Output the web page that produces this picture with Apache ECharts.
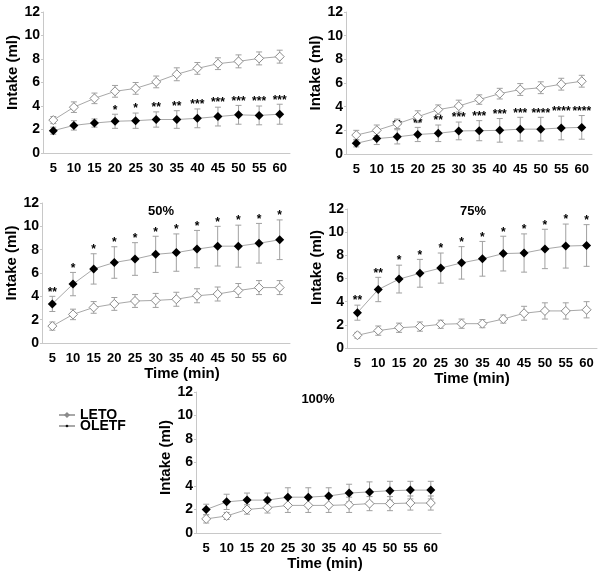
<!DOCTYPE html>
<html>
<head>
<meta charset="utf-8">
<script src="https://cdn.jsdelivr.net/npm/echarts@6/dist/echarts.min.js"></script>
<style>
html,body{margin:0;padding:0;background:#fff;}
#c{width:601px;height:576px;}
</style>
</head>
<body>
<div id="c"></div>
<script>
const categories = ['5','10','15','20','25','30','35','40','45','50','55','60'];
const yMin = 0, yMax = 12, yStep = 2;
const panelTitles = ['', '', '50%', '75%', '100%'];
const seriesNames = ['LETO', 'OLETF'];
const yAxisName = 'Intake (ml)';
const xAxisName = 'Time (min)';

// Panel 1 (top-left)
const p1Leto     = [2.8, 3.9, 4.65, 5.25, 5.5, 6.05, 6.7, 7.2, 7.6, 7.8, 8.05, 8.2];
const p1LetoErr  = [0.3, 0.45, 0.45, 0.5, 0.5, 0.5, 0.55, 0.5, 0.5, 0.55, 0.55, 0.55];
const p1Oletf    = [1.9, 2.35, 2.55, 2.7, 2.75, 2.85, 2.85, 2.95, 3.1, 3.25, 3.2, 3.3];
const p1OletfErr = [0.3, 0.4, 0.35, 0.6, 0.65, 0.65, 0.75, 0.8, 0.8, 0.8, 0.8, 0.85];
const p1Stars    = ['', '', '', '*', '*', '**', '**', '***', '***', '***', '***', '***'];

// Panel 2 (top-right)
const p2Leto     = [1.6, 2.0, 2.55, 3.15, 3.75, 4.05, 4.6, 5.1, 5.45, 5.6, 5.9, 6.15];
const p2LetoErr  = [0.4, 0.45, 0.4, 0.5, 0.4, 0.5, 0.4, 0.45, 0.5, 0.5, 0.5, 0.5];
const p2Oletf    = [0.9, 1.3, 1.45, 1.65, 1.75, 1.95, 1.97, 2.0, 2.1, 2.1, 2.2, 2.25];
const p2OletfErr = [0.3, 0.5, 0.6, 0.6, 0.7, 0.75, 0.85, 1.0, 1.0, 1.0, 1.0, 1.0];
const p2Stars    = ['', '', '**', '**', '**', '***', '***', '***', '***', '****', '****', '****'];

// Panel 3 (50%)
const p3Leto     = [1.45, 2.45, 3.05, 3.35, 3.6, 3.65, 3.75, 4.05, 4.2, 4.5, 4.75, 4.75];
const p3LetoErr  = [0.35, 0.45, 0.5, 0.55, 0.55, 0.6, 0.6, 0.6, 0.6, 0.6, 0.6, 0.6];
const p3Oletf    = [3.35, 5.05, 6.35, 6.9, 7.2, 7.6, 7.75, 8.05, 8.3, 8.3, 8.55, 8.85];
const p3OletfErr = [0.65, 1.0, 1.3, 1.35, 1.4, 1.55, 1.6, 1.6, 1.7, 1.8, 1.7, 1.7];
const p3Stars    = ['**', '*', '*', '*', '*', '*', '*', '*', '*', '*', '*', '*'];

// Panel 4 (75%)
const p4Leto     = [1.1, 1.5, 1.75, 1.85, 2.05, 2.1, 2.1, 2.5, 3.0, 3.2, 3.2, 3.3];
const p4LetoErr  = [0.25, 0.4, 0.4, 0.4, 0.35, 0.4, 0.35, 0.35, 0.6, 0.7, 0.7, 0.7];
const p4Oletf    = [3.05, 5.05, 5.95, 6.45, 6.9, 7.35, 7.7, 8.15, 8.2, 8.55, 8.8, 8.85];
const p4OletfErr = [0.65, 1.05, 1.2, 1.2, 1.3, 1.4, 1.5, 1.5, 1.65, 1.7, 1.9, 1.8];
const p4Stars    = ['**', '**', '*', '*', '*', '*', '*', '*', '*', '*', '*', '*'];

// Panel 5 (100%)
const p5Leto     = [1.2, 1.45, 2.0, 2.15, 2.35, 2.35, 2.35, 2.4, 2.5, 2.5, 2.55, 2.55];
const p5LetoErr  = [0.35, 0.3, 0.4, 0.45, 0.6, 0.6, 0.6, 0.65, 0.6, 0.6, 0.6, 0.6];
const p5Oletf    = [2.0, 2.65, 2.8, 2.8, 3.05, 3.05, 3.15, 3.4, 3.5, 3.6, 3.65, 3.65];
const p5OletfErr = [0.45, 0.65, 0.6, 0.6, 0.8, 0.8, 0.7, 0.75, 0.85, 0.8, 0.75, 0.75];
const p5Stars    = ['', '', '', '', '', '', '', '', '', '', '', ''];

const panels = [
  {leto: p1Leto, letoErr: p1LetoErr, oletf: p1Oletf, oletfErr: p1OletfErr, stars: p1Stars},
  {leto: p2Leto, letoErr: p2LetoErr, oletf: p2Oletf, oletfErr: p2OletfErr, stars: p2Stars},
  {leto: p3Leto, letoErr: p3LetoErr, oletf: p3Oletf, oletfErr: p3OletfErr, stars: p3Stars},
  {leto: p4Leto, letoErr: p4LetoErr, oletf: p4Oletf, oletfErr: p4OletfErr, stars: p4Stars},
  {leto: p5Leto, letoErr: p5LetoErr, oletf: p5Oletf, oletfErr: p5OletfErr, stars: p5Stars}
];

// layout (pixels)
const layout = [
  {left: 43,  top: 12,  width: 247, height: 141, xName: false, namePadX: 0,  namePadY: 20},
  {left: 346, top: 12,  width: 246, height: 142, xName: false, namePadX: 0,  namePadY: 20},
  {left: 42,  top: 203, width: 248, height: 140, xName: true,  namePadX: 32, namePadY: 20},
  {left: 347, top: 209, width: 250, height: 139, xName: true,  namePadX: 0,  namePadY: 22},
  {left: 196, top: 392, width: 245, height: 141, xName: true,  namePadX: 13, namePadY: 10}
];
const titlePos = [null, null, {x: 156, y: 200}, {x: 468, y: 200}, {x: 313, y: 388}];

const FONT = 'Liberation Sans, Arial, sans-serif';
const grayLine = '#a8a8a8';
const errColor = '#a0a0a0';

function makeErrRender(stars, drawStars) {
  return function (params, api) {
    const i = api.value(0);
    const lo = api.value(1), hi = api.value(2);
    const pTop = api.coord([i, hi]);
    const pBot = api.coord([i, lo]);
    const cap = 3;
    const st = {stroke: errColor, lineWidth: 1};
    const children = [
      {type: 'line', shape: {x1: pTop[0], y1: pTop[1], x2: pBot[0], y2: pBot[1]}, style: st},
      {type: 'line', shape: {x1: pTop[0] - cap, y1: pTop[1], x2: pTop[0] + cap, y2: pTop[1]}, style: st},
      {type: 'line', shape: {x1: pBot[0] - cap, y1: pBot[1], x2: pBot[0] + cap, y2: pBot[1]}, style: st}
    ];
    if (drawStars && stars[params.dataIndex]) {
      children.push({
        type: 'text',
        style: {
          text: stars[params.dataIndex],
          x: pTop[0], y: pTop[1] + 2,
          align: 'center', verticalAlign: 'bottom',
          fill: '#000', font: 'bold 12px ' + FONT
        }
      });
    }
    return {type: 'group', children: children};
  };
}

const grids = [], xAxes = [], yAxes = [], series = [], titles = [];
panels.forEach(function (p, k) {
  const L = layout[k];
  grids.push({left: L.left, top: L.top, width: L.width, height: L.height, containLabel: false});
  xAxes.push({
    type: 'category', gridIndex: k, data: categories, boundaryGap: true,
    axisLine: {show: true, lineStyle: {color: '#c8c8c8', width: 1}},
    axisTick: {show: false},
    axisLabel: {color: '#000', fontFamily: FONT, fontWeight: 'bold', fontSize: 13, margin: 9, interval: 0},
    name: L.xName ? xAxisName : '', nameLocation: 'middle', nameGap: 21,
    nameTextStyle: {color: '#000', fontFamily: FONT, fontWeight: 'bold', fontSize: 15, padding: [0, 0, 0, L.namePadX]},
    splitLine: {show: false}
  });
  yAxes.push({
    type: 'value', gridIndex: k, min: yMin, max: yMax, interval: yStep,
    axisLine: {show: true, lineStyle: {color: '#c8c8c8', width: 1}},
    axisTick: {show: true, length: 2, lineStyle: {color: '#c8c8c8'}},
    axisLabel: {color: '#000', fontFamily: FONT, fontWeight: 'bold', fontSize: 14, margin: 3},
    splitLine: {show: false},
    name: yAxisName, nameLocation: 'middle', nameGap: 19, nameRotate: 90,
    nameTextStyle: {color: '#000', fontFamily: FONT, fontWeight: 'bold', fontSize: 15, padding: [0, 0, 0, L.namePadY]}
  });
  const mkErr = (vals, errs) => vals.map((v, i) => [i, v - errs[i], v + errs[i]]);
  series.push({
    type: 'custom', xAxisIndex: k, yAxisIndex: k, z: 1, silent: true,
    renderItem: makeErrRender(p.stars, false),
    encode: {x: 0, y: [1, 2]},
    data: mkErr(p.leto, p.letoErr)
  });
  series.push({
    type: 'custom', xAxisIndex: k, yAxisIndex: k, z: 1, silent: true,
    renderItem: makeErrRender(p.stars, true),
    encode: {x: 0, y: [1, 2]},
    data: mkErr(p.oletf, p.oletfErr)
  });
  series.push({
    name: seriesNames[0], type: 'line', xAxisIndex: k, yAxisIndex: k, z: 3,
    data: p.leto, symbol: 'diamond', symbolSize: 9, showAllSymbol: true,
    lineStyle: {color: grayLine, width: 1},
    itemStyle: {color: '#ffffff', borderColor: '#8a8a8a', borderWidth: 1},
    animation: false
  });
  series.push({
    name: seriesNames[1], type: 'line', xAxisIndex: k, yAxisIndex: k, z: 3,
    data: p.oletf, symbol: 'diamond', symbolSize: 9, showAllSymbol: true,
    lineStyle: {color: grayLine, width: 1},
    itemStyle: {color: '#000000', borderColor: '#000000', borderWidth: 0},
    animation: false
  });
  if (titlePos[k]) {
    titles.push({
      text: panelTitles[k], left: titlePos[k].x, top: titlePos[k].y, textAlign: 'center',
      textStyle: {color: '#000', fontFamily: FONT, fontWeight: 'bold', fontSize: 13}
    });
  }
});

const chart = echarts.init(document.getElementById('c'), null, {renderer: 'canvas'});
chart.setOption({
  animation: false,
  backgroundColor: '#ffffff',
  title: titles,
  grid: grids,
  xAxis: xAxes,
  yAxis: yAxes,
  legend: {
    data: seriesNames, orient: 'vertical', left: 58, top: 408,
    itemWidth: 16, itemHeight: 4, itemGap: -3, padding: 0,
    textStyle: {color: '#000', fontFamily: FONT, fontWeight: 'bold', fontSize: 14, lineHeight: 13}
  },
  series: series
});
</script>
</body>
</html>
